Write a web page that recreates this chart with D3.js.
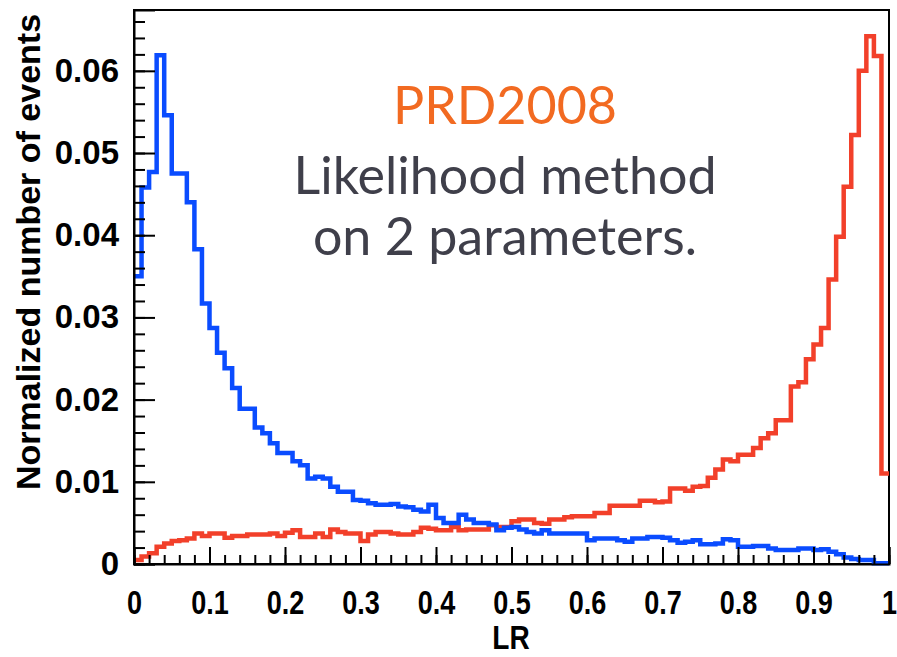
<!DOCTYPE html>
<html>
<head>
<meta charset="utf-8">
<script src="https://cdn.jsdelivr.net/npm/d3@7"></script>
<style>
  body { margin: 0; background: #fff; }
  svg { display: block; }
</style>
</head>
<body>
<svg id="chart" width="897" height="657"></svg>
<script>
// LR distributions, 100 bins of width 0.01 on [0, 1]
const binCount = 100;
const binLow = d3.range(binCount).map(i => i / binCount);

// background-like sample (peaks at low LR)
const blueCounts = [
  0.0350, 0.0458, 0.0477, 0.0619, 0.0546, 0.0475, 0.0475, 0.0440, 0.0383, 0.0317,
  0.0287, 0.0257, 0.0238, 0.0214, 0.0189, 0.0189, 0.0166, 0.0159, 0.0147, 0.0135,
  0.0135, 0.0125, 0.0120, 0.0104, 0.0106, 0.0104, 0.0094, 0.0088, 0.0088, 0.0078,
  0.0077, 0.0074, 0.0072, 0.0072, 0.0073, 0.0070, 0.0069, 0.0066, 0.0064, 0.0072,
  0.0056, 0.0050, 0.0050, 0.0060, 0.0054, 0.0050, 0.0050, 0.0048, 0.0041, 0.0044,
  0.0045, 0.0042, 0.0039, 0.0037, 0.0041, 0.0037, 0.0037, 0.0037, 0.0037, 0.0037,
  0.0029, 0.0031, 0.0031, 0.0031, 0.0029, 0.0027, 0.0031, 0.0031, 0.0033, 0.0033,
  0.0032, 0.0029, 0.0026, 0.0027, 0.0029, 0.0024, 0.0024, 0.0025, 0.0030, 0.0029,
  0.0021, 0.0021, 0.0022, 0.0022, 0.0019, 0.0017, 0.0017, 0.0017, 0.0019, 0.0019,
  0.0017, 0.0018, 0.0015, 0.0012, 0.0008, 0.0006, 0.0005, 0.0005, 0.0001, 0.0001
];

// signal-like sample (peaks at high LR)
const redCounts = [
  0.0005, 0.0009, 0.0013, 0.0021, 0.0025, 0.0028, 0.0029, 0.0031, 0.0037, 0.0034,
  0.0037, 0.0037, 0.0032, 0.0034, 0.0034, 0.0036, 0.0036, 0.0036, 0.0037, 0.0034,
  0.0038, 0.0041, 0.0033, 0.0033, 0.0037, 0.0033, 0.0042, 0.0039, 0.0037, 0.0037,
  0.0028, 0.0036, 0.0039, 0.0039, 0.0037, 0.0036, 0.0036, 0.0039, 0.0044, 0.0043,
  0.0041, 0.0041, 0.0045, 0.0041, 0.0042, 0.0042, 0.0042, 0.0047, 0.0045, 0.0045,
  0.0052, 0.0054, 0.0054, 0.0050, 0.0049, 0.0054, 0.0054, 0.0057, 0.0058, 0.0058,
  0.0058, 0.0062, 0.0062, 0.0071, 0.0071, 0.0071, 0.0071, 0.0077, 0.0077, 0.0075,
  0.0076, 0.0092, 0.0092, 0.0089, 0.0094, 0.0095, 0.0105, 0.0115, 0.0127, 0.0125,
  0.0133, 0.0133, 0.0141, 0.0153, 0.0159, 0.0175, 0.0175, 0.0216, 0.0221, 0.0249,
  0.0267, 0.0287, 0.0346, 0.0398, 0.0459, 0.0522, 0.0600, 0.0642, 0.0618, 0.0110
];

const xTickValues = [0, 0.1, 0.2, 0.3, 0.4, 0.5, 0.6, 0.7, 0.8, 0.9, 1];
const xTickLabels = ["0", "0.1", "0.2", "0.3", "0.4", "0.5", "0.6", "0.7", "0.8", "0.9", "1"];
const yTickValues = [0, 0.01, 0.02, 0.03, 0.04, 0.05, 0.06];
const yTickLabels = ["0", "0.01", "0.02", "0.03", "0.04", "0.05", "0.06"];

const xTitle = "LR";
const yTitle = "Normalized number of events";
const noteLines = ["PRD2008", "Likelihood method", "on 2 parameters."];

// ---- layout ----
const svg = d3.select("#chart");
const frame = { left: 134, right: 889, top: 10, bottom: 564 };
const yMax = 0.0674;

const x = d3.scaleLinear().domain([0, 1]).range([frame.left, frame.right]);
const y = d3.scaleLinear().domain([0, yMax]).range([frame.bottom, frame.top]);

const axisFont = "'Liberation Sans', Arial, Helvetica, sans-serif";

// frame
svg.append("rect")
  .attr("x", frame.left).attr("y", frame.top)
  .attr("width", frame.right - frame.left)
  .attr("height", frame.bottom - frame.top)
  .attr("fill", "none").attr("stroke", "#000").attr("stroke-width", 2);

// histograms as step outlines
function stepPoints(values) {
  const pts = binLow.map((lo, i) => [lo, values[i]]);
  pts.push([1, values[values.length - 1]]);
  return pts;
}
const step = d3.line()
  .x(d => x(d[0]))
  .y(d => y(d[1]))
  .curve(d3.curveStepAfter);

const series = [
  { values: redCounts, color: "#f2402a" },
  { values: blueCounts, color: "#0a4cff" }
];
svg.append("g").attr("class", "hists")
  .selectAll("path")
  .data(series)
  .join("path")
  .attr("d", s => step(stepPoints(s.values)))
  .attr("fill", "none")
  .attr("stroke", s => s.color)
  .attr("stroke-width", 4.5)
  .attr("stroke-linejoin", "miter");

// x axis: major ticks with labels, minor ticks every 0.02
const xMinor = d3.range(0, 1.0001, 0.02);
svg.append("g")
  .attr("transform", `translate(0,${frame.bottom})`)
  .call(d3.axisBottom(x).tickValues(xMinor).tickSize(-9).tickFormat(""))
  .call(g => g.select(".domain").remove())
  .call(g => g.selectAll("line").attr("stroke", "#000").attr("stroke-width", 2));

const xAxis = svg.append("g")
  .attr("transform", `translate(0,${frame.bottom})`)
  .call(d3.axisBottom(x).tickValues(xTickValues).tickSize(-17).tickPadding(27)
    .tickFormat((d, i) => xTickLabels[i]));
xAxis.select(".domain").attr("stroke", "#000").attr("stroke-width", 2);
xAxis.selectAll("line").attr("stroke", "#000").attr("stroke-width", 2);
xAxis.selectAll("text")
  .attr("fill", "#000")
  .style("font-family", axisFont)
  .style("font-weight", "bold")
  .style("font-size", "33px")
  .attr("transform", "scale(0.82,1)");

// y axis: major ticks with labels, minor ticks every 0.002
const yMinor = d3.range(0, yMax, 0.002);
svg.append("g")
  .attr("transform", `translate(${frame.left},0)`)
  .call(d3.axisLeft(y).tickValues(yMinor).tickSize(-11).tickFormat(""))
  .call(g => g.select(".domain").remove())
  .call(g => g.selectAll("line").attr("stroke", "#000").attr("stroke-width", 2));

const yAxis = svg.append("g")
  .attr("transform", `translate(${frame.left},0)`)
  .call(d3.axisLeft(y).tickValues(yTickValues).tickSize(-21).tickPadding(15)
    .tickFormat((d, i) => yTickLabels[i]));
yAxis.select(".domain").attr("stroke", "#000").attr("stroke-width", 2);
yAxis.selectAll("line").attr("stroke", "#000").attr("stroke-width", 2);
yAxis.selectAll("text")
  .attr("fill", "#000")
  .style("font-family", axisFont)
  .style("font-weight", "bold")
  .style("font-size", "33px");

// axis titles
svg.append("text")
  .attr("transform", `translate(511,649) scale(0.85,1)`)
  .attr("text-anchor", "middle")
  .style("font-family", axisFont)
  .style("font-weight", "bold")
  .style("font-size", "33px")
  .text(xTitle);

svg.append("text")
  .attr("transform", `translate(40,252) rotate(-90)`)
  .attr("text-anchor", "middle")
  .style("font-family", axisFont)
  .style("font-weight", "bold")
  .style("font-size", "34px")
  .text(yTitle);

// annotation
const noteFont = "Lato, 'Open Sans', sans-serif";
const noteStyle = [
  { color: "#f26a21", baseline: 124 },
  { color: "#3f3f4a", baseline: 194 },
  { color: "#3f3f4a", baseline: 255 }
];
svg.append("g").selectAll("text")
  .data(noteLines)
  .join("text")
  .attr("x", 505)
  .attr("y", (d, i) => noteStyle[i].baseline)
  .attr("text-anchor", "middle")
  .attr("fill", (d, i) => noteStyle[i].color)
  .style("font-family", noteFont)
  .style("font-size", "52px")
  .text(d => d);
</script>
</body>
</html>
